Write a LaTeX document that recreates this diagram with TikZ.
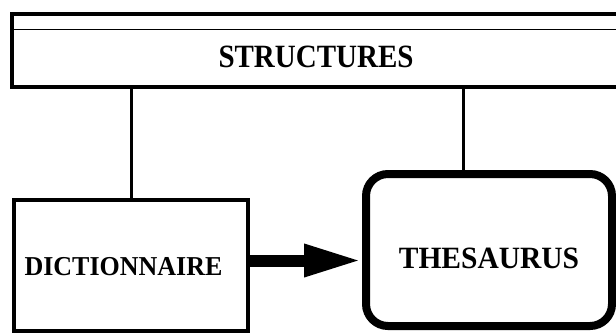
\documentclass[tikz,border=0pt]{standalone}
\usepackage{fontspec}
\setmainfont{Liberation Serif}
\usetikzlibrary{arrows.meta}
\begin{document}
\begin{tikzpicture}[x=1pt,y=-1pt,
  frame/.style={draw, inner sep=0pt, outer sep=0pt, anchor=north west},
  caption/.style={inner sep=0pt, font=\bfseries\fontsize{#1}{#1}\selectfont},
  link/.style={line width=3pt}]
\useasboundingbox (0,0) rectangle (616,333);
\clip (0,0) rectangle (616,333);
% top banner, running past the right edge
\node[frame, line width=4pt, minimum width=640pt, minimum height=73pt] (structures) at (12,14) {};
\draw[line width=1.6pt] (structures.west |- 0,29.5) -- (structures.east |- 0,29.5);
\node[caption=29, yscale=1.12] (structtext) at (316,56.5) {STRUCTURES};
% dictionary box
\node[frame, line width=4pt, minimum width=234pt, minimum height=131pt] (dict) at (14,200) {};
\node[caption=26, yscale=1.05] (dicttext) at (123.5,267) {DICTIONNAIRE};
% thesaurus box, heavy rounded border
\node[frame, line width=8pt, rounded corners=22pt, minimum width=246pt, minimum height=152pt] (thes) at (366,174) {};
\node[caption=29.5, yscale=1.05] (thestext) at (489,258) {THESAURUS};
% links to the banner
\draw[link] (dict.north) -- (dict.north |- structures.south);
\draw[link] ([xshift=-26pt]thes.north) -- ([xshift=-26pt]thes.north |- structures.south);
% heavy arrow
\draw[line width=12pt, shorten >=4pt, -{Triangle[length=58pt,width=30pt]}]
  (dict.east |- 0,260.5) -- (thes.west |- 0,260.5);
\end{tikzpicture}
\end{document}
